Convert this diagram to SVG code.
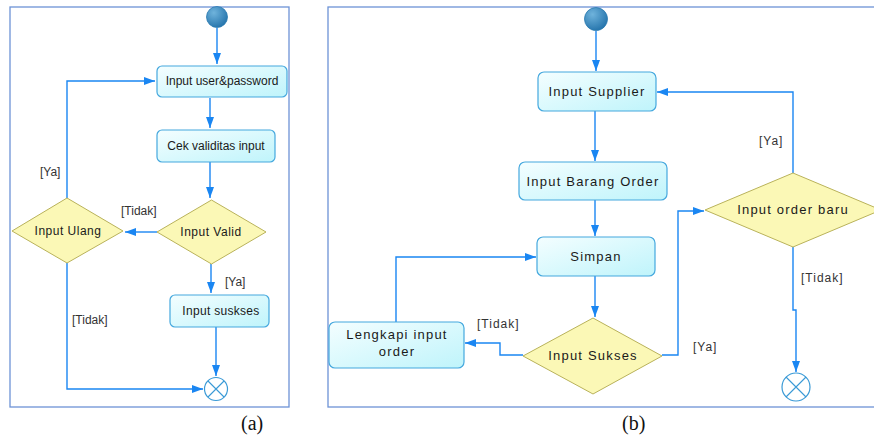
<svg xmlns="http://www.w3.org/2000/svg" width="874" height="436" viewBox="0 0 874 436">
<defs>
<linearGradient id="boxg" x1="0" y1="0" x2="1" y2="1">
<stop offset="0" stop-color="#f4feff"/>
<stop offset="1" stop-color="#bff4fb"/>
</linearGradient>
<radialGradient id="startg" cx="0.35" cy="0.3" r="0.8">
<stop offset="0" stop-color="#6fb3dc"/>
<stop offset="1" stop-color="#1f6fa8"/>
</radialGradient>
<marker id="arr" markerWidth="12" markerHeight="10" refX="11" refY="5" orient="auto" markerUnits="userSpaceOnUse">
<path d="M0,1 L11,5 L0,9 z" fill="#1a86f2"/>
</marker>
<style>
.frame{fill:none;stroke:#6d93d6;stroke-width:1.3}
.box{fill:url(#boxg);stroke:#45a8de;stroke-width:1.2}
.dia{fill:#fbf8b6;stroke:#b9b25a;stroke-width:1}
.ln{fill:none;stroke:#1a86f2;stroke-width:1.4}
.t{font-family:"Liberation Sans",Arial,sans-serif;fill:#1a1a1a;text-anchor:middle}
.ta{font-size:12px}
.tb{font-size:13px;letter-spacing:1.2px}
.lbl{font-family:"Liberation Sans",Arial,sans-serif;fill:#333;font-size:12px}
.cap{font-family:"Liberation Serif","Times New Roman",serif;font-size:20px;fill:#111}
.endc{fill:#fff;stroke:#3a9ad6;stroke-width:1.2}
</style>
</defs>

<rect class="frame" x="10" y="7" width="279" height="400"/>
<rect class="frame" x="328" y="7" width="560" height="400"/>

<g id="connectors">
<path class="ln" marker-end="url(#arr)" d="M217,28 V64"/>
<path class="ln" marker-end="url(#arr)" d="M210,98 V128"/>
<path class="ln" marker-end="url(#arr)" d="M210,162 V198"/>
<path class="ln" marker-end="url(#arr)" d="M157,232 H125"/>
<path class="ln" marker-end="url(#arr)" d="M67,198 V81 H155"/>
<path class="ln" marker-end="url(#arr)" d="M211,264 V293"/>
<path class="ln" marker-end="url(#arr)" d="M216,327 V376"/>
<path class="ln" marker-end="url(#arr)" d="M67,263 V389 H203"/>
<path class="ln" marker-end="url(#arr)" d="M596,31 V71"/>
<path class="ln" marker-end="url(#arr)" d="M595,111 V161"/>
<path class="ln" marker-end="url(#arr)" d="M595,200 V236"/>
<path class="ln" marker-end="url(#arr)" d="M595,276 V317"/>
<path class="ln" marker-end="url(#arr)" d="M523,355 H500 V343 H465"/>
<path class="ln" marker-end="url(#arr)" d="M396,322 V257 H536"/>
<path class="ln" marker-end="url(#arr)" d="M662,355 H678 V211 H704"/>
<path class="ln" marker-end="url(#arr)" d="M793,173 V92 H657"/>
<path class="ln" marker-end="url(#arr)" d="M793,247 V310 H796 V372"/>
</g>

<g id="labels">
<text class="lbl" x="40" y="176">[Ya]</text>
<text class="lbl" x="121" y="215">[Tidak]</text>
<text class="lbl" x="225" y="286">[Ya]</text>
<text class="lbl" x="72" y="324">[Tidak]</text>
<text class="lbl" x="759" y="145" letter-spacing="1">[Ya]</text>
<text class="lbl" x="477" y="328" letter-spacing="1">[Tidak]</text>
<text class="lbl" x="693" y="351" letter-spacing="1">[Ya]</text>
<text class="lbl" x="801" y="282" letter-spacing="1">[Tidak]</text>
<text class="cap" x="241" y="430">(a)</text>
<text class="cap" x="622" y="430">(b)</text>
</g>

<g id="startA"><circle cx="217" cy="17" r="10.5" fill="url(#startg)" stroke="#2a7ab0" stroke-width="0.8"/></g>
<g id="inputUser">
<rect class="box" x="157" y="66" width="130" height="31" rx="5"/>
<text class="t ta" x="222" y="85">Input user&amp;password</text>
</g>
<g id="cekValid">
<rect class="box" x="157" y="130" width="118" height="32" rx="5"/>
<text class="t ta" x="216" y="150">Cek validitas input</text>
</g>
<g id="inputValid">
<polygon class="dia" points="157,232 211.5,200 266,232 211.5,264"/>
<text class="t ta" x="211" y="236" letter-spacing="0.5">Input Valid</text>
</g>
<g id="inputUlang">
<polygon class="dia" points="12,231 67,198 123,231 67,263"/>
<text class="t ta" x="68" y="235" letter-spacing="0.5">Input Ulang</text>
</g>
<g id="inputSukses">
<rect class="box" x="170" y="295" width="99" height="32" rx="5"/>
<text class="t ta" x="221" y="315" letter-spacing="0.3">Input suskses</text>
</g>
<g id="endA">
<circle class="endc" cx="216" cy="389" r="11.5"/>
<path d="M208,381 L224,397 M224,381 L208,397" stroke="#3a9ad6" stroke-width="1.1"/>
</g>

<g id="startB"><circle cx="596" cy="19" r="11.5" fill="url(#startg)" stroke="#2a7ab0" stroke-width="0.8"/></g>
<g id="inputSupplier">
<rect class="box" x="538" y="72" width="118" height="39" rx="6"/>
<text class="t tb" x="597" y="96">Input Supplier</text>
</g>
<g id="inputBarang">
<rect class="box" x="519" y="162" width="148" height="38" rx="6"/>
<text class="t tb" x="593" y="186">Input Barang Order</text>
</g>
<g id="simpan">
<rect class="box" x="537" y="237" width="118" height="39" rx="6"/>
<text class="t tb" x="596" y="261">Simpan</text>
</g>
<g id="inputSuksesB">
<polygon class="dia" points="523,356 593,318 662,356 593,394"/>
<text class="t tb" x="593" y="360">Input Sukses</text>
</g>
<g id="lengkapi">
<rect class="box" x="329" y="322" width="135" height="46" rx="6"/>
<text class="t tb" x="397" y="339">Lengkapi input</text>
<text class="t tb" x="397" y="356">order</text>
</g>
<g id="inputOrderBaru">
<polygon class="dia" points="705,210 793,173 881,210 793,247"/>
<text class="t tb" x="793" y="214">Input order baru</text>
</g>
<g id="endB">
<circle class="endc" cx="796" cy="387" r="14"/>
<path d="M786,377 L806,397 M806,377 L786,397" stroke="#3a9ad6" stroke-width="1.1"/>
</g>
</svg>
